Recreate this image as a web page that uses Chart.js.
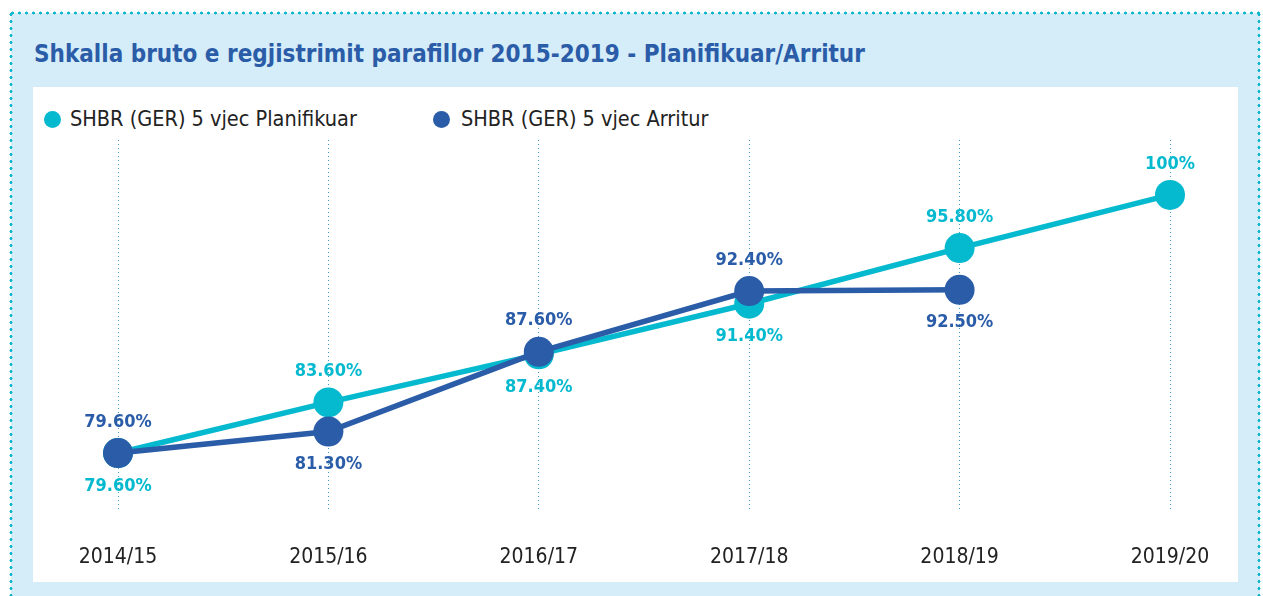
<!DOCTYPE html>
<html><head><meta charset="utf-8">
<script src="https://cdn.jsdelivr.net/npm/chart.js@4.4.0/dist/chart.umd.min.js"></script>
<style>
html,body{margin:0;padding:0;width:1263px;height:596px;overflow:hidden;background:#fff;}
#outer{position:absolute;left:11px;top:13px;width:1249px;height:600px;background:#d5ecf9;}
.dots-h{position:absolute;height:4px;background-image:radial-gradient(circle,#13b6cd 1.3px,transparent 1.7px);background-size:7px 4px;background-repeat:repeat-x;}
.dots-v{position:absolute;width:4px;background-image:radial-gradient(circle,#13b6cd 1.3px,transparent 1.7px);background-size:4px 7px;background-repeat:repeat-y;}
#panel{position:absolute;left:33px;top:87px;width:1205px;height:495px;background:#fff;}
#title{position:absolute;left:34px;top:40px;font-family:"DejaVu Sans Condensed",sans-serif;font-weight:bold;font-size:24px;color:#2a5ca8;white-space:nowrap;}
.leg{position:absolute;top:106px;font-family:"DejaVu Sans Condensed",sans-serif;font-size:21.5px;color:#222;white-space:nowrap;}
.leg i{position:absolute;width:17px;height:17px;border-radius:50%;top:5px;}
canvas{position:absolute;left:0;top:0;}
</style></head>
<body>
<div id="outer"></div>
<div class="dots-h" style="left:9px;top:11px;width:1252px;"></div>
<div class="dots-v" style="left:9px;top:11px;height:590px;"></div>
<div class="dots-v" style="left:1257px;top:11px;height:590px;"></div>
<div id="panel"></div>
<div id="title">Shkalla bruto e regjistrimit parafillor 2015-2019 - Planifikuar/Arritur</div>
<div class="leg" style="left:70px;"><i style="left:-26px;background:#05b9cf;"></i>SHBR (GER) 5 vjec Planifikuar</div>
<div class="leg" style="left:461px;"><i style="left:-28px;background:#2a5ca8;"></i>SHBR (GER) 5 vjec Arritur</div>
<canvas id="c" width="1263" height="596"></canvas>
<script>
const categories = ["2014/15","2015/16","2016/17","2017/18","2018/19","2019/20"];
const planned = [79.6, 83.6, 87.4, 91.4, 95.8, 100];
const achieved = [79.6, 81.3, 87.6, 92.4, 92.5, null];
const plannedLabels = ["79.60%","83.60%","87.40%","91.40%","95.80%","100%"];
const achievedLabels = ["79.60%","81.30%","87.60%","92.40%","92.50%",""];
const plannedPos = ["below","above","below","below","above","above"];
const achievedPos = ["above","below","above","above","below",""];

const CYAN = "#05b9cf", BLUE = "#2a5ca8";
const FONT = '"DejaVu Sans Condensed",sans-serif';

const labelPlugin = {
  id: 'valLabels',
  afterDatasetsDraw(chart) {
    const ctx = chart.ctx;
    ctx.save();
    ctx.font = 'bold 18px ' + FONT;
    ctx.textAlign = 'center';
    ctx.textBaseline = 'middle';
    const sets = [[0, plannedLabels, plannedPos, CYAN],[1, achievedLabels, achievedPos, BLUE]];
    sets.forEach(([di, labels, pos, col]) => {
      const meta = chart.getDatasetMeta(di);
      meta.data.forEach((pt, i) => {
        if (!labels[i] || pos[i] === "") return;
        const dy = pos[i] === 'above' ? -31 : 33;
        ctx.fillStyle = col;
        ctx.fillText(labels[i], pt.x, pt.y + dy);
      });
    });
    ctx.restore();
  }
};

new Chart(document.getElementById('c'), {
  type: 'line',
  data: {
    labels: categories,
    datasets: [
      {label: 'SHBR (GER) 5 vjec Planifikuar', data: planned, borderColor: CYAN, backgroundColor: CYAN, order: 2,
       borderWidth: 5.5, pointRadius: 15, pointHoverRadius: 15, pointBackgroundColor: CYAN, pointBorderWidth: 0, tension: 0},
      {label: 'SHBR (GER) 5 vjec Arritur', data: achieved, borderColor: BLUE, backgroundColor: BLUE, order: 1,
       borderWidth: 5.5, pointRadius: 15, pointHoverRadius: 15, pointBackgroundColor: BLUE, pointBorderWidth: 0, tension: 0, spanGaps: false}
    ]
  },
  options: {
    responsive: false,
    animation: false,
    events: [],
    layout: {padding: {left: 118, right: 93, top: 140, bottom: 0}},
    plugins: {legend: {display: false}, tooltip: {enabled: false}, title: {display: false}},
    scales: {
      x: {
        offset: false,
        grid: {display: true, drawTicks: false, color: '#3a9fd0', lineWidth: 1},
        border: {display: false, dash: [1, 3]},
        ticks: {padding: 33, color: '#222', font: {family: FONT, size: 21}, maxRotation: 0, autoSkip: false},
        afterFit(scale) { scale.height = 84; }
      },
      y: {
        display: false,
        min: 74.94, max: 104.34
      }
    }
  },
  plugins: [labelPlugin]
});
</script>
</body></html>
